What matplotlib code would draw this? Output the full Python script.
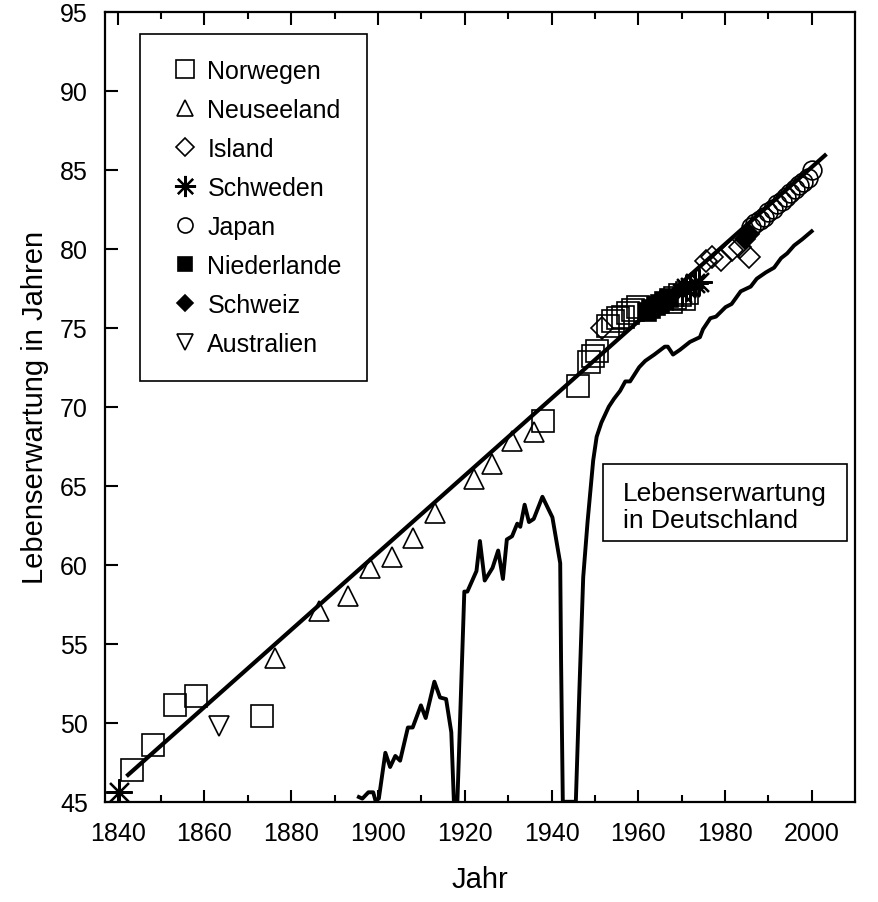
import matplotlib
matplotlib.use('Agg')
import matplotlib.pyplot as plt
from matplotlib.patches import Rectangle

plt.rcParams['font.family'] = ['Liberation Sans', 'DejaVu Sans']

# best-practice trend line (endpoints)
trend_year = [1842.4, 2003.0]
trend_val = [46.7, 85.9]

# life expectancy in Germany
ger_year = [1895.6, 1896.4, 1897.8, 1898.9, 1899.4, 1900.2, 1901.7, 1902.8, 1904.0, 1905.1,
            1906.9, 1908.0, 1909.9, 1911.0, 1913.0, 1914.3, 1915.7, 1916.9, 1917.5, 1918.3,
            1919.9, 1920.6, 1922.7, 1923.5, 1924.6, 1926.4, 1927.7, 1928.8, 1929.7, 1930.9,
            1932.1, 1932.8, 1933.8, 1934.8, 1935.9, 1937.9, 1940.2, 1942.0, 1942.2, 1942.6,
            1945.6, 1946.4, 1947.3, 1948.3, 1949.6, 1950.4, 1951.5, 1953.2, 1954.4, 1955.8,
            1957.0, 1958.1, 1960.2, 1961.6, 1963.7, 1966.1, 1966.8, 1968.0, 1969.6, 1971.9,
            1974.2, 1974.9, 1976.6, 1977.9, 1980.1, 1981.5, 1983.6, 1985.9, 1987.3, 1989.4,
            1991.3, 1992.9, 1994.3, 1995.9, 1997.8, 1999.95]
ger_val = [45.3, 45.2, 45.6, 45.6, 45.1, 45.2, 48.1, 47.2, 47.9, 47.6,
           49.7, 49.7, 51.1, 50.3, 52.6, 51.6, 51.5, 49.4, 45.0, 45.0,
           58.3, 58.3, 59.6, 61.5, 59.0, 59.8, 60.9, 59.1, 61.6, 61.8,
           62.6, 62.4, 63.8, 62.7, 62.9, 64.3, 63.0, 60.1, 53.9, 45.0,
           45.0, 51.9, 59.2, 62.7, 66.6, 68.1, 69.0, 70.0, 70.5, 71.0,
           71.6, 71.6, 72.5, 72.9, 73.3, 73.8, 73.8, 73.3, 73.6, 74.1,
           74.4, 74.9, 75.6, 75.7, 76.3, 76.5, 77.3, 77.6, 78.1, 78.5,
           78.8, 79.4, 79.7, 80.2, 80.6, 81.1]

# record holders
nor_year = [1843.3, 1848.2, 1853.2, 1858.1, 1873.3, 1938.1, 1946.1, 1948.7, 1949.6, 1950.5,
            1953.0, 1954.2, 1955.3, 1956.5, 1957.6, 1958.8, 1960.0,
            1967.5, 1968.5, 1969.5, 1970.5, 1971.2]
nor_val = [47.0, 48.6, 51.1, 51.7, 50.4, 69.1, 71.3, 72.8, 73.2, 73.5,
           75.1, 75.4, 75.6, 75.7, 75.9, 76.1, 76.3,
           76.6, 76.9, 77.1, 76.8, 77.2]

nz_year = [1876.2, 1886.3, 1893.0, 1898.2, 1903.3, 1908.0, 1913.2, 1922.1, 1926.2, 1930.9, 1936.0]
nz_val = [54.1, 57.1, 58.0, 59.8, 60.5, 61.7, 63.3, 65.4, 66.4, 67.8, 68.4]

isl_year = [1951.7, 1975.5, 1977.0, 1979.0, 1981.5, 1983.5, 1985.5]
isl_val = [75.0, 79.2, 79.5, 79.3, 79.9, 80.1, 79.5]

swe_year = [1840.3, 1970.0, 1971.0, 1972.0, 1973.0, 1974.0]
swe_val = [45.6, 77.2, 77.5, 77.6, 77.8, 77.9]

jap_year = [1986, 1987, 1988, 1989, 1990, 1991, 1992, 1993, 1994, 1995, 1996, 1997, 1998, 1999, 2000]
jap_val = [81.4, 81.6, 81.8, 82.0, 82.3, 82.5, 82.8, 83.0, 83.3, 83.5, 83.8, 84.0, 84.2, 84.5, 85.0]

ned_year = [1962, 1963, 1964, 1965, 1966, 1967]
ned_val = [76.0, 76.2, 76.4, 76.5, 76.7, 76.9]

swi_year = [1984.5, 1985.5]
swi_val = [80.6, 80.9]

aus_year = [1863.3]
aus_val = [49.8]

fig = plt.figure(figsize=(8.79, 9.03), dpi=100)
ax = fig.add_axes([0.119, 0.111, 0.854, 0.875])

ax.plot(trend_year, trend_val, color='black', lw=3.0, zorder=3)
ax.plot(ger_year, ger_val, color='black', lw=2.8, zorder=3)

mk = dict(linestyle='none', color='black', markeredgewidth=1.2, zorder=4)
ax.plot(nor_year, nor_val, marker='s', ms=15.5, mfc='none', label='Norwegen', **mk)
ax.plot(nz_year, nz_val, marker='^', ms=14, mfc='none', label='Neuseeland', **mk)
ax.plot(isl_year, isl_val, marker='D', ms=11, mfc='none', label='Island', **mk)
ax.plot(swe_year, swe_val, marker=(8, 2, 0), ms=19, label='Schweden',
        linestyle='none', color='black', markeredgewidth=1.6, zorder=4)
ax.plot(jap_year, jap_val, marker='o', ms=13.5, mfc='none', label='Japan', **mk)
ax.plot(ned_year, ned_val, marker='s', ms=13, mfc='black', label='Niederlande', **mk)
ax.plot(swi_year, swi_val, marker='D', ms=10, mfc='black', label='Schweiz', **mk)
ax.plot(aus_year, aus_val, marker='v', ms=14, mfc='none', label='Australien', **mk)

ax.set_xlim(1837, 2010)
ax.set_ylim(45, 95)
ax.set_xticks(range(1840, 2001, 20))
ax.set_xticks(range(1850, 2001, 20), minor=True)
ax.set_yticks(range(45, 96, 5))
ax.tick_params(axis='x', which='both', direction='in', top=True, labelsize=18, pad=14, width=1.5)
ax.tick_params(axis='x', which='major', length=9)
ax.tick_params(axis='x', which='minor', length=5)
ax.tick_params(axis='y', direction='in', length=9, width=1.5, labelsize=18, pad=12)
for s in ax.spines.values():
    s.set_linewidth(1.6)

ax.set_xlabel('Jahr', fontsize=21, labelpad=14)
ax.set_ylabel('Lebenserwartung in Jahren', fontsize=21, labelpad=8)

leg = ax.legend(loc='upper left', bbox_to_anchor=(0.047, 0.972), borderaxespad=0,
                fontsize=18, markerscale=0.8, labelspacing=0.6, borderpad=1.0,
                handlelength=1.6, handletextpad=0.1, fancybox=False, framealpha=1)
leg.get_frame().set_edgecolor('black')
leg.get_frame().set_linewidth(1.2)

ax.add_patch(Rectangle((0.664, 0.330), 0.325, 0.0975, transform=ax.transAxes,
                       fill=False, edgecolor='black', lw=1.2, zorder=5))
ax.text(0.691, 0.374, 'Lebenserwartung\nin Deutschland', transform=ax.transAxes,
        fontsize=19, ha='left', va='center', linespacing=1.15, zorder=6)

fig.savefig('out.png', dpi=100)
